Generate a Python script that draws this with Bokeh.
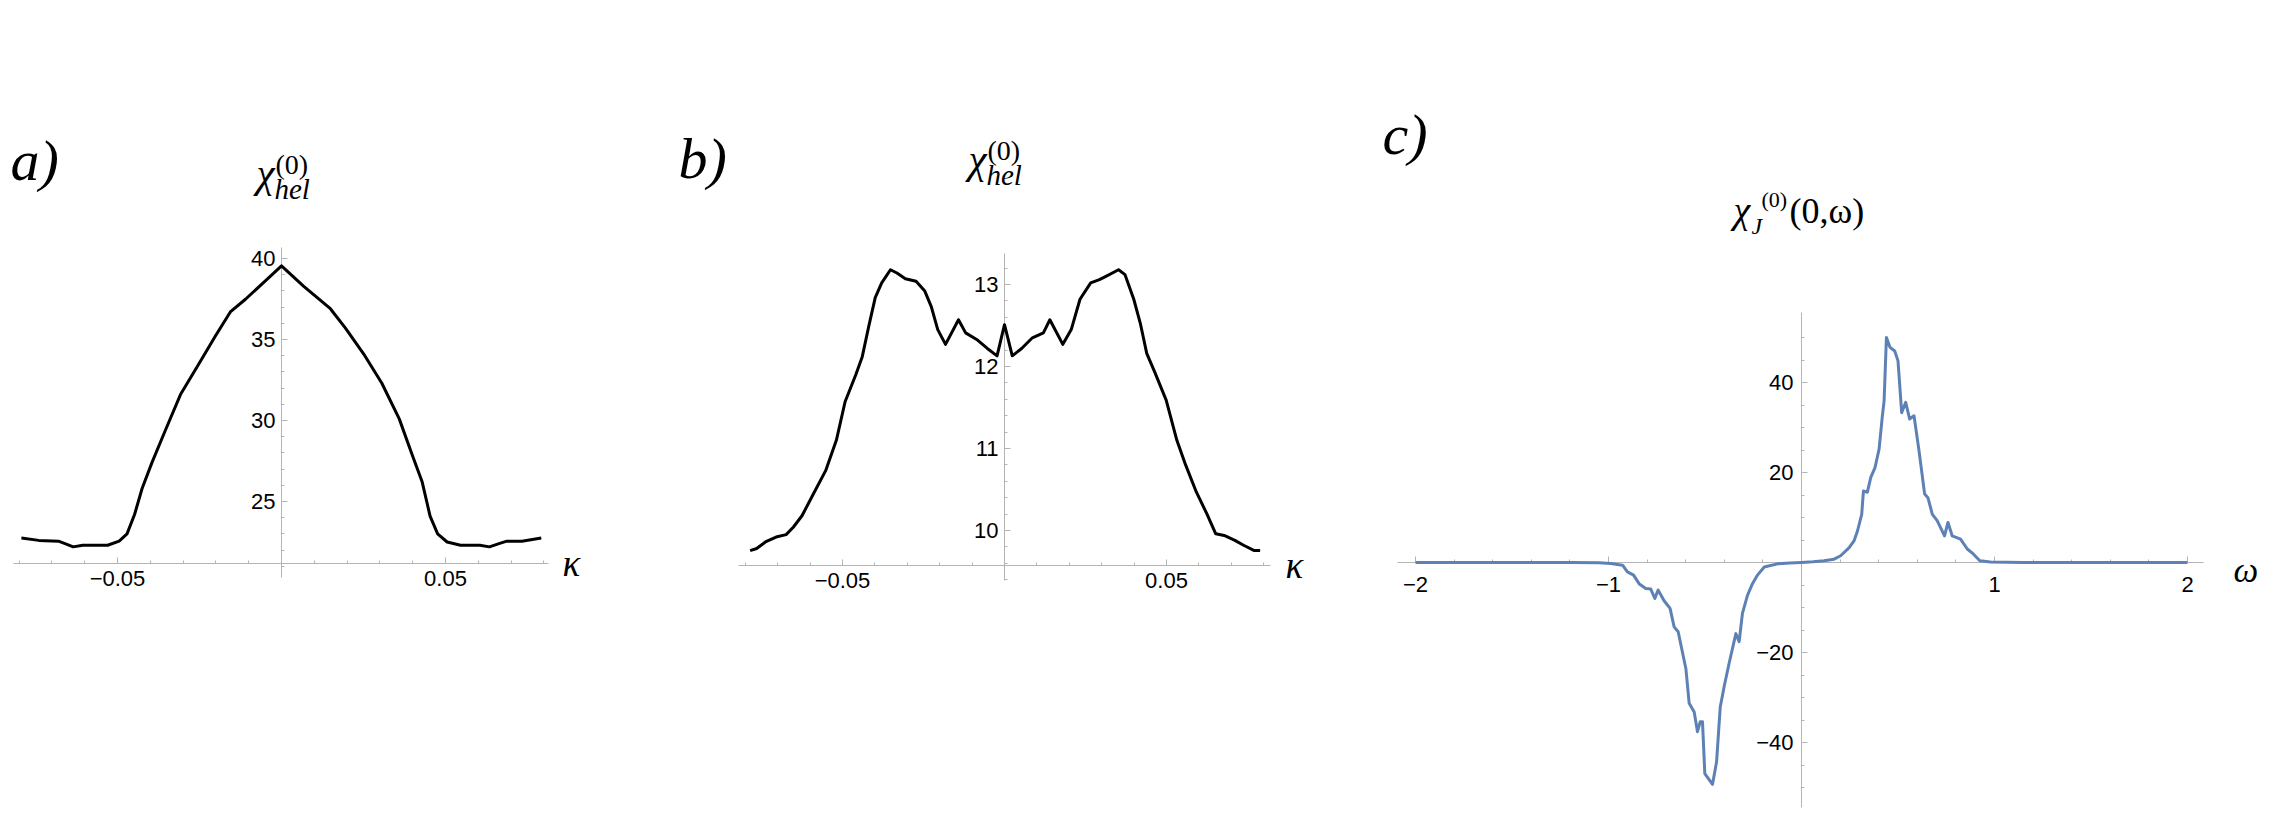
from bokeh.plotting import figure
from bokeh.models import Range1d, FixedTicker, CustomJSTickFormatter, Label, LinearAxis
from bokeh.layouts import row
from bokeh.embed import file_html
from bokeh.resources import INLINE

# ---------------- data ----------------
a_kappa = [-0.0793, -0.074, -0.068, -0.066, -0.0635, -0.0606, -0.0565, -0.053, -0.0495, -0.0471,
           -0.0448, -0.0425, -0.0395, -0.0354, -0.0308, -0.0249, -0.0202, -0.0156, -0.0109, -0.005,
           0.0, 0.0067, 0.0149, 0.0195, 0.0254, 0.0306, 0.0359, 0.04, 0.0429, 0.0453,
           0.0476, 0.0505, 0.0546, 0.0605, 0.0634, 0.0663, 0.0687, 0.0733, 0.0792]
a_chi = [22.74, 22.6, 22.55, 22.4, 22.2, 22.3, 22.3, 22.3, 22.55, 23.0,
         24.2, 25.8, 27.4, 29.4, 31.6, 33.6, 35.2, 36.7, 37.5, 38.6,
         39.55, 38.3, 36.9, 35.7, 34.0, 32.3, 30.1, 27.8, 26.2, 24.1,
         23.0, 22.5, 22.3, 22.3, 22.2, 22.4, 22.55, 22.55, 22.75]

b_kappa = [-0.0785, -0.0765, -0.0738, -0.0705, -0.0674, -0.0652, -0.0625, -0.0592, -0.0552, -0.0519,
           -0.0492, -0.0459, -0.0439, -0.0419, -0.0399, -0.0379, -0.0352, -0.0332, -0.0306, -0.0273,
           -0.0246, -0.0226, -0.0206, -0.0182, -0.0142, -0.012, -0.0086, -0.0053, -0.0023, 0.0,
           0.0024, 0.0053, 0.0086, 0.012, 0.014, 0.018, 0.0206, 0.0233, 0.0266, 0.0293,
           0.0313, 0.0352, 0.0372, 0.0399, 0.0419, 0.0439, 0.0465, 0.0499, 0.0532, 0.0559,
           0.0592, 0.0625, 0.0652, 0.0678, 0.0711, 0.0738, 0.0771, 0.0789]
b_chi = [9.755, 9.78, 9.86, 9.92, 9.95, 10.04, 10.18, 10.43, 10.73, 11.1,
         11.57, 11.9, 12.12, 12.49, 12.84, 13.02, 13.18, 13.14, 13.07, 13.04,
         12.92, 12.73, 12.45, 12.27, 12.57, 12.41, 12.33, 12.22, 12.13, 12.51,
         12.13, 12.22, 12.35, 12.41, 12.57, 12.27, 12.45, 12.82, 13.02, 13.06,
         13.1, 13.18, 13.12, 12.82, 12.53, 12.16, 11.92, 11.59, 11.1, 10.8,
         10.47, 10.2, 9.96, 9.94, 9.88, 9.82, 9.755, 9.755]

c_omega = [-2.0, -1.5, -1.2, -1.05, -0.988, -0.927, -0.902, -0.87, -0.84, -0.807,
           -0.781, -0.76, -0.743, -0.712, -0.681, -0.66, -0.639, -0.599, -0.582, -0.556,
           -0.539, -0.525, -0.513, -0.501, -0.461, -0.44, -0.421, -0.401, -0.375, -0.34,
           -0.323, -0.306, -0.28, -0.254, -0.228, -0.193, -0.124, -0.06, 0.0, 0.06,
           0.117, 0.169, 0.203, 0.247, 0.272, 0.29, 0.312, 0.321, 0.341, 0.359,
           0.381, 0.402, 0.419, 0.428, 0.44, 0.459, 0.483, 0.5, 0.519, 0.54,
           0.56, 0.583, 0.609, 0.638, 0.655, 0.678, 0.703, 0.741, 0.759, 0.781,
           0.824, 0.859, 0.89, 0.924, 0.979, 1.15, 1.5, 2.0]
c_chi = [0.0, 0.0, -0.02, -0.08, -0.2, -0.6, -2.1, -2.8, -4.8, -5.8,
         -5.9, -8.0, -6.1, -8.5, -10.2, -14.3, -15.4, -23.6, -31.3, -33.2,
         -37.6, -35.4, -35.4, -46.9, -49.3, -44.3, -32.1, -27.6, -22.4, -15.8,
         -17.6, -11.3, -7.3, -4.7, -2.8, -1.0, -0.3, -0.1, 0.0, 0.15,
         0.37, 0.74, 1.5, 3.3, 4.8, 7.0, 10.7, 15.9, 15.6, 18.9,
         21.1, 25.2, 32.6, 35.9, 50.0, 47.8, 47.0, 44.8, 33.3, 35.6,
         31.9, 32.6, 24.8, 15.2, 14.4, 10.7, 9.3, 5.9, 8.9, 5.9,
         5.2, 3.0, 1.9, 0.37, 0.1, 0.0, 0.0, 0.0]

a_xticks = [-0.05, 0.05]
a_yticks = [25, 30, 35, 40]
b_xticks = [-0.05, 0.05]
b_yticks = [10, 11, 12, 13]
c_xticks = [-2, -1, 1, 2]
c_yticks = [-40, -20, 20, 40]

a_xminor = [round(-0.08 + 0.01 * i, 3) for i in range(17)]
a_yminor = list(range(21, 41))
b_xminor = [round(-0.08 + 0.01 * i, 3) for i in range(17)]
b_yminor = [round(9.4 + 0.2 * i, 2) for i in range(20)]
c_xminor = [round(-2.0 + 0.2 * i, 2) for i in range(21)]
c_yminor = [-50 + 5 * i for i in range(21)]

# axis extents (data units) as drawn in the original
a_xbounds, a_ybounds, a_xaxis_at = (-0.0817, 0.0814), (20.31, 40.68), 21.17
b_xbounds, b_ybounds, b_xaxis_at = (-0.0821, 0.0821), (9.39, 13.378), 9.573
c_xbounds, c_ybounds, c_xaxis_at = (-2.093, 2.083), (-54.44, 55.56), 0.0

AXIS_GREY = "#b4b4b4"
SERIF = "Liberation Serif"
SANS = "Liberation Sans"
H = 826          # figure height (page px)
OFF = 0          # bokeh page has no body margin
BASE_FIX = 0.33  # baseline correction (fraction of font size)


class Panel:
    """Calibration: picture pixel (sx0, sy0) shows data (x0, y0); kx, ky px per unit."""

    def __init__(self, left_page, width, sx0, x0, kx, sy0, y0, ky):
        self.left = left_page + OFF
        self.width = width
        self.sx0, self.x0, self.kx = sx0, x0, kx
        self.sy0, self.y0, self.ky = sy0, y0, ky

    def xd(self, sx):
        return self.x0 + (sx - self.sx0) / self.kx

    def yd(self, sy):
        return self.y0 - (sy - self.sy0) / self.ky

    def ranges(self):
        return (Range1d(self.xd(self.left), self.xd(self.left + self.width)),
                Range1d(self.yd(OFF + H), self.yd(OFF)))


def make_fig(pn):
    xr, yr = pn.ranges()
    p = figure(width=pn.width, height=H, x_range=xr, y_range=yr,
               output_backend="svg", toolbar_location=None,
               x_axis_location=None, y_axis_location=None,
               min_border=0, min_border_left=0, min_border_right=0,
               min_border_top=0, min_border_bottom=0)
    p.grid.visible = False
    p.outline_line_color = None
    p.background_fill_color = "white"
    p.border_fill_color = "white"
    return p


def add_axes(p, xloc, yloc, xb, yb, xt, xm, yt, ym, xstand, ystand):
    fmt = CustomJSTickFormatter(code="return (tick < 0 ? '\u2212' : '') + Math.abs(tick).toString();")
    xa = LinearAxis(fixed_location=xloc, bounds=xb, ticker=FixedTicker(ticks=xt, minor_ticks=xm), formatter=fmt)
    ya = LinearAxis(fixed_location=yloc, bounds=yb, ticker=FixedTicker(ticks=yt, minor_ticks=ym), formatter=fmt)
    for ax, st in ((xa, xstand), (ya, ystand)):
        ax.level = "underlay"
        ax.axis_line_color = AXIS_GREY
        ax.axis_line_width = 1
        ax.major_tick_line_color = AXIS_GREY
        ax.minor_tick_line_color = AXIS_GREY
        ax.major_tick_in = 6
        ax.major_tick_out = 0
        ax.minor_tick_in = 3
        ax.minor_tick_out = 0
        ax.major_label_text_font = SANS
        ax.major_label_text_font_size = "22px"
        ax.major_label_text_color = "black"
        ax.major_label_standoff = st
    p.add_layout(xa, "below")
    p.add_layout(ya, "left")


def add_texts(p, pn, items):
    for text, sx, sy, size, style in items:
        p.add_layout(Label(x=pn.xd(sx), y=pn.yd(sy - BASE_FIX * size), text=text, text_font=SERIF,
                           text_font_size=f"{size}px", text_font_style=style, text_color="black",
                           text_align="left", text_baseline="alphabetic"))


# ---------------- panel a ----------------
PA = Panel(0, 640, 281, 0.0, 3280.0, 258, 40.0, 16.2)
pa = make_fig(PA)
add_axes(pa, a_xaxis_at, 0, a_xbounds, a_ybounds, a_xticks, a_xminor, a_yticks, a_yminor, 7, 6)
pa.line(a_kappa, a_chi, line_color="black", line_width=3, line_join="round")
add_texts(pa, PA, [
    ("a)", 10, 179, 58, "italic"),
    ("\u03c7", 256, 186, 41, "italic"),
    ("(0)", 275, 173, 28, "normal"),
    ("hel", 274, 198, 29, "italic"),
    ("\u03ba", 562, 575, 37, "italic"),
])

# ---------------- panel b ----------------
PB = Panel(640, 700, 1004, 0.0, 3240.0, 284, 13.0, 82.0)
pb = make_fig(PB)
add_axes(pb, b_xaxis_at, 0, b_xbounds, b_ybounds, b_xticks, b_xminor, b_yticks, b_yminor, 7, 6)
pb.line(b_kappa, b_chi, line_color="black", line_width=3, line_join="round")
add_texts(pb, PB, [
    ("b)", 678, 177, 58, "italic"),
    ("\u03c7", 968, 172, 41, "italic"),
    ("(0)", 987, 159, 28, "normal"),
    ("hel", 986, 184, 29, "italic"),
    ("\u03ba", 1285, 577, 37, "italic"),
])

# ---------------- panel c ----------------
PC = Panel(1340, 924, 1801, 0.0, 193.0, 562, 0.0, 4.5)
pc = make_fig(PC)
add_axes(pc, c_xaxis_at, 0, c_xbounds, c_ybounds, c_xticks, c_xminor, c_yticks, c_yminor, 14, 8)
pc.line(c_omega, c_chi, line_color="#5E81B5", line_width=3, line_join="round")
add_texts(pc, PC, [
    ("c)", 1382, 153, 58, "italic"),
    ("\u03c7", 1733, 222, 38, "italic"),
    ("J", 1751, 233, 24, "italic"),
    ("(0)", 1761, 206, 22, "normal"),
    ("(0,\u03c9)", 1789, 222, 36, "normal"),
    ("\u03c9", 2233, 582, 35, "italic"),
])

layout = row(pa, pb, pc)
open("out.html", "w").write(file_html(layout, INLINE))
